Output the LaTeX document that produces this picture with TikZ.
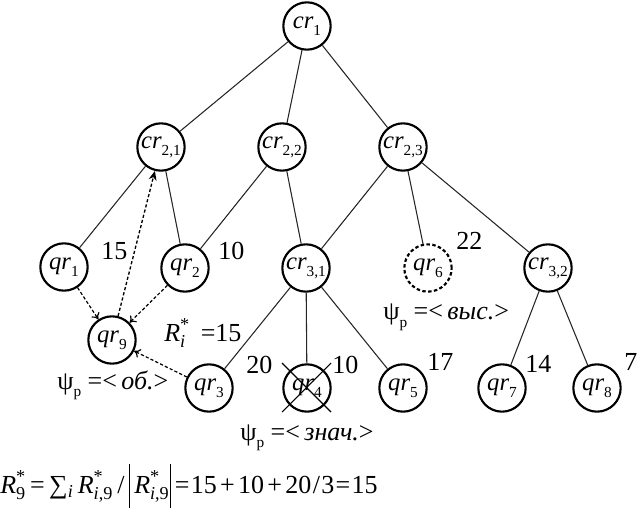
\documentclass[tikz,border=0pt]{standalone}
\usepackage{amsmath}
\usepackage{fontspec}
\setmainfont{Liberation Serif}
\usetikzlibrary{arrows.meta}
\newcommand\sbs[1]{\raisebox{-0.28em}{\fontsize{11.5}{12}\selectfont #1}}
\newcommand\nl[2]{\textit{#1}\sbs{#2}}
\newcommand\RR[2]{\textit{R}$^{\text{*}}_{\text{#2}}$}
\newcommand\psip{ψ\sbs{p}}
\begin{document}
\begin{tikzpicture}[x=0.75pt,y=-0.75pt,
  vtx/.style={circle,draw,line width=1.6pt,minimum size=35.5pt,inner sep=0pt,font=\fontsize{18.5}{20}\selectfont},
  dvtx/.style={vtx,dash pattern=on 2.6pt off 1.8pt},
  edge/.style={line width=0.8pt,black!85},
  darr/.style={line width=0.9pt,dash pattern=on 2.4pt off 1.6pt,-{To[length=4.5pt,width=7pt]}},
  uarr/.style={line width=1pt,dash pattern=on 2.4pt off 1.6pt,-{Stealth[length=7pt,width=6pt]}},
  lbl/.style={anchor=base west,inner sep=0pt,font=\fontsize{19.5}{21}\selectfont},
  crossl/.style={line width=0.8pt}]
\useasboundingbox (0,0) rectangle (638,509);
% nodes
\node[vtx] (cr1) at (307,26) {\nl{cr}{1}};
\node[vtx] (cr21) at (161,147) {\nl{cr}{2,1}};
\node[vtx] (cr22) at (282,147) {\nl{cr}{2,2}};
\node[vtx] (cr23) at (403,147) {\nl{cr}{2,3}};
\node[vtx] (qr1) at (64,267) {\nl{qr}{1}};
\node[vtx] (qr2) at (185,268) {\nl{qr}{2}};
\node[vtx] (cr31) at (306,268) {\nl{cr}{3,1}};
\node[dvtx] (qr6) at (428,268) {\nl{qr}{6}};
\node[vtx] (cr32) at (548,268) {\nl{cr}{3,2}};
\node[vtx] (qr9) at (112,340) {\nl{qr}{9}};
\node[vtx] (qr3) at (209,388) {\nl{qr}{3}};
\node[vtx] (qr4) at (307,388) {\nl{qr}{4}};
\node[vtx] (qr5) at (403,388) {\nl{qr}{5}};
\node[vtx] (qr7) at (502,388) {\nl{qr}{7}};
\node[vtx] (qr8) at (597,388) {\nl{qr}{8}};
% edges
\draw[edge] (cr1) -- (cr21);
\draw[edge] (cr1) -- (cr22);
\draw[edge] (cr1) -- (cr23);
\draw[edge] (cr21) -- (qr1);
\draw[edge] (cr21) -- (qr2);
\draw[edge] (cr22) -- (qr2);
\draw[edge] (cr22) -- (cr31);
\draw[edge] (cr23) -- (cr31);
\draw[edge] (cr23) -- (qr6);
\draw[edge] (cr23) -- (cr32);
\draw[edge] (cr31) -- (qr3);
\draw[edge] (cr31) -- (qr4);
\draw[edge] (cr31) -- (qr5);
\draw[edge] (cr32) -- (qr7);
\draw[edge] (cr32) -- (qr8);
% dashed arrows
\draw[darr] (qr1) -- (qr9);
\draw[darr] (qr2) -- (qr9);
\draw[darr] (qr3) -- (qr9);
\draw[uarr] (qr9) -- (cr21);
% cross on qr4
\coordinate (x1) at (282,363);
\coordinate (x2) at (331,412);
\coordinate (x3) at (331,363);
\coordinate (x4) at (282,412);
\draw[crossl] (x1) -- (x2);
\draw[crossl] (x3) -- (x4);
% labels
\node[lbl] (l15) at (101,260) {15};
\node[lbl] (l10a) at (218,260) {10};
\node[lbl] (lri) at (164,341) {\RR{R}{\textit{i}}\ \,=15};
\node[lbl] (lob) at (57,389) {\psip\ =<\,\textit{об.}>};
\node[lbl] (l20) at (246,373) {20};
\node[lbl] (l10b) at (332,373) {10};
\node[lbl] (l17) at (427,370) {17};
\node[lbl] (l14) at (525,372) {14};
\node[lbl] (l7) at (624,370) {7};
\node[lbl] (l22) at (456,250) {22};
\node[lbl] (lvys) at (383,320) {\psip\ =<\,\textit{выс.}>};
\node[lbl] (lzn) at (240,440) {\psip\ =<\,\textit{знач.}>};
\node[lbl] (form) at (0,493) {\RR{R}{9}\,=\,∑$_{\text{\textit{i}}}$\,\RR{R}{\textit{i},9}\,/\,\rule[-11pt]{0.7pt}{33pt}\,\RR{R}{\textit{i},9}\rule[-11pt]{0.7pt}{33pt}\,=\kern1pt15\kern2.5pt+\kern2.5pt10\kern2.5pt+\kern2.5pt20\kern1pt/\kern1pt3\kern1pt=\kern1pt15};
\end{tikzpicture}
\end{document}
